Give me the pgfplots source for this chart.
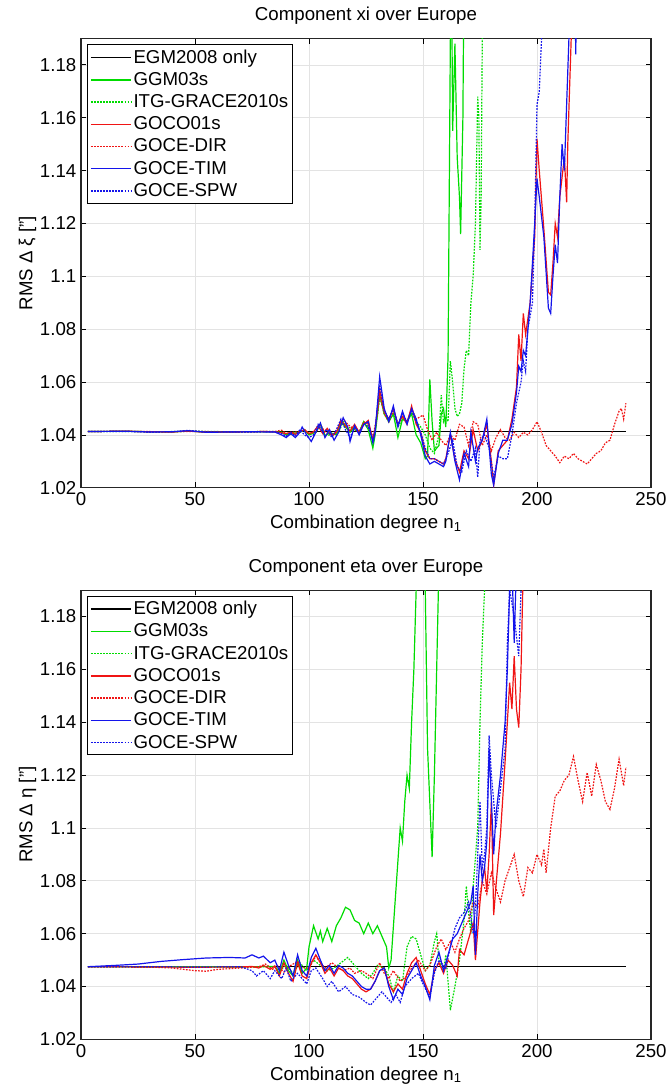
\documentclass[border=0pt]{standalone}
\usepackage{pgfplots}
\pgfplotsset{compat=1.18}
\usepackage{fontspec}
\setmainfont{Liberation Sans}

\definecolor{mgreen}{RGB}{0,220,0}
\definecolor{mred}{RGB}{240,20,20}
\definecolor{mblue}{RGB}{20,20,235}
\newcommand\fs{\fontsize{14}{16.5}\selectfont}

\pgfplotsset{
  panel/.style={
    scale only axis,
    width=427.5pt, height=337pt,
    xmin=0, xmax=250, ymin=1.02, ymax=1.19,
    xtick={0,50,100,150,200,250},
    ytick={1.02,1.04,1.06,1.08,1.1,1.12,1.14,1.16,1.18},
    /pgf/number format/assume math mode=true,
    yticklabel style={/pgf/number format/fixed, /pgf/number format/precision=2},
    tick label style={font=\fs},
    label style={font=\fs},
    ylabel style={yshift=-4pt},
    title style={font=\fontsize{14}{16}\selectfont, yshift=1pt},
    tick align=inside, tick pos=both,
    major tick length=4pt,
    grid=major, grid style={gray!22, line width=0.5pt},
    axis line style={line width=0.8pt, black!85},
    every tick/.style={black, line width=0.6pt},
    xlabel={Combination degree n\textsubscript{1}},
    legend style={at={(0,1)}, anchor=north west, xshift=4.5pt, yshift=-4.5pt,
      font=\fs, draw=black, line width=0.6pt, fill=white,
      inner xsep=2pt, inner ysep=2pt, row sep=2.4pt,
      nodes={inner sep=1.5pt}},
    legend cell align=left,
    legend image code/.code={\draw[mark=none,#1,line width=1.1pt] (0pt,0pt) -- (30pt,0pt);},
  },
  egm/.style={color=black, line width=0.8pt},
  ggm/.style={color=mgreen, line width=0.9pt},
  itg/.style={color=mgreen, line width=0.9pt, dash pattern=on 1.3pt off 1pt},
  goco/.style={color=mred, line width=0.9pt},
  dir/.style={color=mred, line width=0.9pt, dash pattern=on 1.3pt off 1pt},
  tim/.style={color=mblue, line width=0.9pt},
  spw/.style={color=mblue, line width=0.9pt, dash pattern=on 1.3pt off 1pt},
}

\begin{document}
\begin{tikzpicture}
\path[use as bounding box] (-60.75pt,-37.95pt) rectangle (439.5pt,779.55pt);

% ---------------- xi ----------------
\begin{axis}[panel, at={(0pt,413.7pt)},
  title={Component xi over Europe},
  ylabel={RMS Δ ξ ["]}]
\addplot[egm] coordinates {(3,1.0413) (239,1.0413)};
\addplot[ggm] coordinates {
(3,1.0413)(20,1.0414)(30,1.0412)(40,1.0411)(47,1.0415)(55,1.041)(65,1.0411)(75,1.0412)(85,1.0412)
(88,1.041)(90,1.040)(93,1.0405)(96,1.041)(98,1.042)(100,1.04)(103,1.041)(105,1.044)(107,1.0395)
(109,1.041)(112,1.04)(114,1.045)(116,1.043)(118,1.041)(120,1.043)(122,1.041)(124,1.045)(126,1.042)
(128,1.035)(129,1.04)(131,1.055)(133,1.048)(135,1.045)(137,1.048)(139,1.039)(141,1.046)(143,1.045)
(145,1.048)(147,1.04)(149,1.037)(151,1.031)(152,1.032)(153,1.061)(154,1.045)(155,1.034)(157,1.036)
(158,1.048)(159,1.05)(160,1.043)(161,1.07)(162,1.19)(162.5,1.22)(163,1.155)(164,1.188)(165,1.145)
(166,1.13)(166.5,1.116)(167.5,1.16)(168,1.22)};
\addplot[itg] coordinates {
(3,1.0413)(20,1.0413)(35,1.0412)(50,1.0414)(65,1.0412)(85,1.0413)
(88,1.041)(90,1.0405)(93,1.041)(96,1.041)(98,1.042)(100,1.0405)(103,1.041)(105,1.044)(107,1.040)
(110,1.040)(113,1.041)(115,1.045)(117,1.043)(120,1.042)(122,1.041)(124,1.045)(126,1.043)(128,1.038)
(130,1.047)(131,1.055)(133,1.048)(135,1.045)(137,1.048)(139,1.043)(141,1.046)(143,1.045)(145,1.049)
(147,1.045)(149,1.043)(151,1.040)(153,1.035)(155,1.033)(157,1.040)(158,1.055)(159,1.045)(160,1.047)
(161,1.045)(162,1.068)(163,1.06)(164,1.05)(165,1.047)(166,1.048)(167,1.052)(168,1.065)(169,1.072)
(170,1.07)(171,1.09)(172,1.1)(173,1.12)(174,1.168)(174.5,1.16)(175,1.11)(175.5,1.13)(176,1.19)(177,1.22)};
\addplot[goco] coordinates {
(3,1.0413)(20,1.0414)(30,1.0412)(40,1.0411)(47,1.0415)(55,1.041)(65,1.0411)(75,1.0412)(80,1.0413)
(85,1.0412)(88,1.0408)(90,1.0405)(92,1.041)(94,1.0402)(96,1.0412)(98,1.042)(100,1.0405)(102,1.0412)
(104,1.0435)(106,1.0405)(108,1.0425)(110,1.0395)(112,1.041)(114,1.0455)(116,1.0435)(118,1.0415)
(120,1.044)(122,1.041)(124,1.044)(126,1.0455)(128,1.038)(129,1.042)(131,1.057)(133,1.049)(135,1.046)
(137,1.05)(139,1.044)(141,1.047)(143,1.044)(145,1.051)(147,1.044)(149,1.041)(151,1.034)(153,1.031)
(155,1.031)(157,1.030)(159,1.029)(160,1.031)(162,1.04)(164,1.031)(166,1.026)(168,1.034)(170,1.031)
(172,1.042)(174,1.034)(176,1.038)(178,1.044)(180,1.03)(181,1.021)(183,1.034)(185,1.036)(187,1.038)
(189,1.046)(191,1.058)(192,1.078)(193,1.068)(194,1.086)(195,1.078)(197,1.09)(199,1.115)(200,1.152)
(201,1.14)(203,1.118)(205,1.094)(206,1.093)(207,1.105)(208,1.12)(209,1.115)(210,1.13)(212,1.145)
(213,1.128)(213.5,1.15)(215,1.19)(216,1.21)};
\addplot[dir] coordinates {
(3,1.0413)(20,1.0414)(35,1.0412)(50,1.0413)(65,1.0412)(85,1.0413)
(88,1.0418)(90,1.0405)(93,1.041)(96,1.0412)(98,1.042)(100,1.0405)(103,1.041)(105,1.044)(107,1.041)
(110,1.040)(113,1.042)(115,1.046)(117,1.044)(120,1.042)(122,1.041)(124,1.045)(126,1.044)(128,1.039)
(130,1.048)(131,1.055)(133,1.048)(135,1.045)(137,1.049)(139,1.044)(141,1.047)(143,1.045)(145,1.05)
(147,1.046)(149,1.047)(150,1.0475)(152,1.042)(154,1.038)(156,1.041)(158,1.038)(160,1.036)(162,1.040)
(164,1.038)(166,1.044)(168,1.043)(170,1.036)(172,1.045)(174,1.044)(176,1.036)(178,1.04)(180,1.034)
(182,1.039)(184,1.042)(186,1.039)(188,1.038)(190,1.041)(192,1.039)(194,1.041)(196,1.04)(198,1.042)
(200,1.045)(202,1.041)(204,1.036)(206,1.034)(208,1.032)(210,1.0295)(212,1.032)(214,1.031)(216,1.033)
(218,1.031)(220,1.030)(222,1.029)(224,1.031)(226,1.033)(228,1.034)(230,1.037)(232,1.038)(234,1.044)
(236,1.049)(237,1.05)(238,1.046)(239,1.052)};
\addplot[tim] coordinates {
(3,1.0413)(20,1.0414)(30,1.0411)(40,1.0412)(47,1.0416)(55,1.041)(65,1.0411)(75,1.0412)(85,1.0411)
(88,1.040)(90,1.039)(92,1.0405)(94,1.039)(96,1.041)(97,1.043)(99,1.040)(101,1.0375)(103,1.041)
(105,1.0445)(107,1.039)(109,1.042)(111,1.038)(113,1.041)(115,1.0465)(117,1.043)(118,1.0375)(120,1.0435)
(122,1.040)(124,1.044)(126,1.045)(128,1.037)(129,1.041)(131,1.062)(133,1.05)(135,1.045)(137,1.051)
(139,1.043)(141,1.049)(143,1.044)(145,1.05)(147,1.046)(149,1.04)(151,1.032)(153,1.029)(155,1.03)
(157,1.029)(159,1.028)(160,1.030)(162,1.041)(164,1.030)(166,1.023)(168,1.033)(170,1.028)(171,1.041)
(173,1.030)(174,1.035)(176,1.038)(178,1.046)(180,1.025)(181,1.021)(183,1.033)(185,1.038)(187,1.038)
(189,1.044)(191,1.056)(192,1.066)(193,1.064)(194,1.072)(195,1.07)(197,1.09)(199,1.12)(200,1.137)
(201,1.13)(203,1.115)(205,1.088)(206,1.086)(207,1.1)(208,1.112)(209,1.105)(210,1.13)(211,1.15)
(212,1.14)(214,1.19)(214.5,1.20)(216.5,1.22)(217,1.184)(217.5,1.22)};
\addplot[spw] coordinates {
(3,1.0413)(20,1.0413)(30,1.0411)(40,1.0412)(47,1.0417)(55,1.0411)(65,1.0412)(75,1.0411)(85,1.0412)
(88,1.0405)(90,1.0395)(92,1.041)(94,1.0395)(96,1.042)(98,1.04)(100,1.039)(102,1.04)(104,1.044)
(106,1.041)(108,1.042)(110,1.039)(112,1.042)(114,1.046)(116,1.042)(118,1.039)(120,1.043)(122,1.041)
(124,1.044)(126,1.043)(128,1.038)(129,1.042)(131,1.059)(133,1.049)(135,1.046)(137,1.05)(139,1.044)
(141,1.048)(143,1.045)(145,1.049)(147,1.045)(149,1.041)(151,1.035)(153,1.031)(155,1.031)(157,1.03)
(159,1.029)(161,1.033)(163,1.038)(165,1.028)(167,1.026)(169,1.034)(171,1.03)(173,1.035)(174,1.024)
(175,1.038)(177,1.04)(179,1.035)(181,1.024)(183,1.032)(185,1.031)(187,1.031)(189,1.04)(191,1.052)
(193,1.06)(194,1.068)(195,1.064)(196,1.08)(198,1.09)(199,1.12)(200,1.165)(201,1.17)(202,1.19)(203,1.21)};
\legend{EGM2008 only, GGM03s, ITG-GRACE2010s, GOCO01s, GOCE-DIR, GOCE-TIM, GOCE-SPW}
\end{axis}

% ---------------- eta ----------------
\begin{axis}[panel, at={(0pt,0pt)},
  title={Component eta over Europe},
  ylabel={RMS Δ η ["]}]
\addplot[egm] coordinates {(3,1.0475) (239,1.0475)};
\addplot[ggm] coordinates {
(3,1.0475)(30,1.0474)(50,1.0475)(70,1.0474)(85,1.0476)
(87,1.045)(89,1.05)(91,1.046)(93,1.044)(95,1.05)(97,1.045)(99,1.047)(100,1.055)(102,1.063)(104,1.058)
(105,1.061)(106,1.057)(108,1.062)(110,1.057)(112,1.063)(114,1.066)(116,1.070)(118,1.069)(120,1.065)
(122,1.064)(124,1.060)(126,1.064)(128,1.060)(130,1.063)(132,1.059)(134,1.055)(135,1.047)(136,1.05)
(138,1.075)(140,1.100)(141,1.095)(142,1.110)(143,1.12)(144,1.115)(145,1.14)(146,1.16)(147,1.19)
(148,1.22)(150,1.22)(151,1.19)(152,1.13)(154,1.089)(155,1.12)(156,1.16)(157,1.2)};
\addplot[itg] coordinates {
(3,1.0475)(30,1.0475)(60,1.0474)(85,1.0475)
(87,1.046)(90,1.048)(93,1.045)(96,1.049)(99,1.046)(102,1.05)(105,1.048)(108,1.046)(111,1.047)
(114,1.049)(117,1.051)(120,1.048)(123,1.045)(126,1.043)(128,1.045)(130,1.048)(133,1.047)(135,1.044)
(137,1.038)(139,1.044)(141,1.042)(143,1.055)(145,1.059)(147,1.058)(149,1.052)(151,1.046)(153,1.048)
(155,1.057)(156,1.060)(157,1.050)(159,1.046)(160,1.052)(162,1.031)(164,1.040)(166,1.050)(168,1.065)
(169,1.078)(170,1.068)(171,1.06)(172,1.078)(174,1.10)(175,1.14)(176,1.17)(177,1.19)(178,1.22)};
\addplot[goco] coordinates {
(3,1.0475)(30,1.0474)(50,1.0473)(70,1.0474)(75,1.0476)(78,1.047)(80,1.048)(83,1.0465)(85,1.0478)
(87,1.044)(89,1.049)(91,1.045)(93,1.042)(95,1.049)(97,1.044)(99,1.043)(101,1.049)(103,1.052)(105,1.049)
(107,1.045)(109,1.047)(111,1.044)(113,1.047)(115,1.046)(117,1.044)(119,1.043)(121,1.041)(123,1.039)
(125,1.038)(127,1.039)(129,1.042)(131,1.046)(133,1.047)(135,1.041)(137,1.038)(139,1.041)(141,1.039)
(143,1.045)(145,1.049)(147,1.051)(149,1.046)(151,1.041)(153,1.037)(155,1.046)(157,1.049)(159,1.045)
(161,1.050)(163,1.048)(165,1.044)(166,1.054)(168,1.052)(170,1.058)(172,1.064)(173,1.050)(175,1.072)
(176,1.08)(177,1.085)(178,1.076)(179,1.09)(180,1.11)(181,1.067)(182,1.078)(184,1.098)(186,1.125)
(188,1.155)(189,1.145)(190,1.165)(191,1.145)(192,1.138)(193,1.16)(194,1.2)};
\addplot[dir] coordinates {
(3,1.0475)(30,1.0474)(40,1.047)(50,1.046)(55,1.0458)(60,1.0465)(70,1.047)(78,1.0475)(81,1.0485)
(84,1.0465)(86,1.048)(89,1.0455)(92,1.048)(95,1.0495)(97,1.047)(100,1.047)(103,1.0515)(105,1.049)
(107,1.047)(110,1.049)(113,1.047)(115,1.046)(118,1.047)(120,1.045)(123,1.046)(125,1.045)(128,1.043)
(131,1.049)(133,1.045)(135,1.043)(137,1.046)(140,1.042)(143,1.044)(145,1.047)(148,1.050)(151,1.046)
(153,1.048)(156,1.055)(158,1.058)(160,1.054)(162,1.057)(164,1.053)(166,1.058)(168,1.062)(170,1.065)
(172,1.072)(174,1.070)(176,1.08)(178,1.075)(180,1.083)(182,1.077)(184,1.072)(186,1.080)(188,1.085)
(190,1.09)(192,1.08)(194,1.074)(196,1.085)(198,1.083)(200,1.09)(202,1.086)(203,1.092)(204,1.083)
(206,1.10)(208,1.112)(210,1.114)(212,1.118)(214,1.12)(216,1.127)(218,1.118)(220,1.110)(222,1.121)
(224,1.112)(226,1.124)(228,1.118)(230,1.110)(232,1.107)(234,1.115)(236,1.126)(238,1.116)(239,1.123)};
\addplot[tim] coordinates {
(3,1.0475)(15,1.048)(25,1.0485)(35,1.0495)(45,1.0502)(55,1.0508)(65,1.051)(72,1.0508)(75,1.052)
(78,1.0508)(80,1.0515)(83,1.049)(85,1.05)(87,1.046)(89,1.053)(91,1.048)(93,1.044)(95,1.052)(97,1.046)
(99,1.044)(101,1.051)(103,1.0545)(105,1.050)(107,1.046)(109,1.048)(111,1.045)(113,1.048)(115,1.047)
(117,1.045)(119,1.044)(121,1.042)(123,1.040)(125,1.039)(127,1.039)(129,1.042)(131,1.046)(133,1.047)
(135,1.040)(137,1.035)(139,1.039)(141,1.037)(143,1.043)(145,1.046)(147,1.049)(149,1.044)(151,1.040)
(153,1.035)(155,1.048)(157,1.053)(159,1.046)(161,1.052)(163,1.058)(165,1.060)(167,1.064)(169,1.068)
(171,1.072)(172,1.078)(173,1.052)(174,1.075)(175,1.09)(176,1.08)(177,1.085)(178,1.095)(179,1.13)
(180,1.11)(181,1.09)(182,1.105)(184,1.12)(186,1.14)(187,1.16)(188,1.19)(189,1.2)(190,1.17)(191,1.2)};
\addplot[spw] coordinates {
(3,1.0475)(30,1.0475)(50,1.0474)(70,1.0475)(75,1.046)(77,1.044)(80,1.046)(83,1.043)(85,1.046)
(88,1.043)(90,1.047)(92,1.042)(95,1.045)(97,1.043)(99,1.041)(101,1.046)(103,1.047)(106,1.043)
(108,1.040)(110,1.042)(113,1.038)(116,1.040)(119,1.037)(122,1.036)(125,1.034)(127,1.033)(130,1.036)
(132,1.038)(134,1.036)(136,1.034)(138,1.037)(140,1.034)(142,1.040)(145,1.043)(148,1.045)(150,1.041)
(153,1.036)(155,1.045)(157,1.050)(160,1.047)(162,1.055)(164,1.062)(166,1.066)(168,1.068)(170,1.072)
(172,1.060)(173,1.07)(174,1.09)(175,1.11)(176,1.085)(177,1.09)(178,1.10)(179,1.135)(180,1.12)
(182,1.10)(184,1.115)(186,1.13)(187,1.17)(188,1.19)(190,1.18)(192,1.165)(193,1.19)(194,1.21)};
\legend{EGM2008 only, GGM03s, ITG-GRACE2010s, GOCO01s, GOCE-DIR, GOCE-TIM, GOCE-SPW}
\end{axis}
\end{tikzpicture}
\end{document}
